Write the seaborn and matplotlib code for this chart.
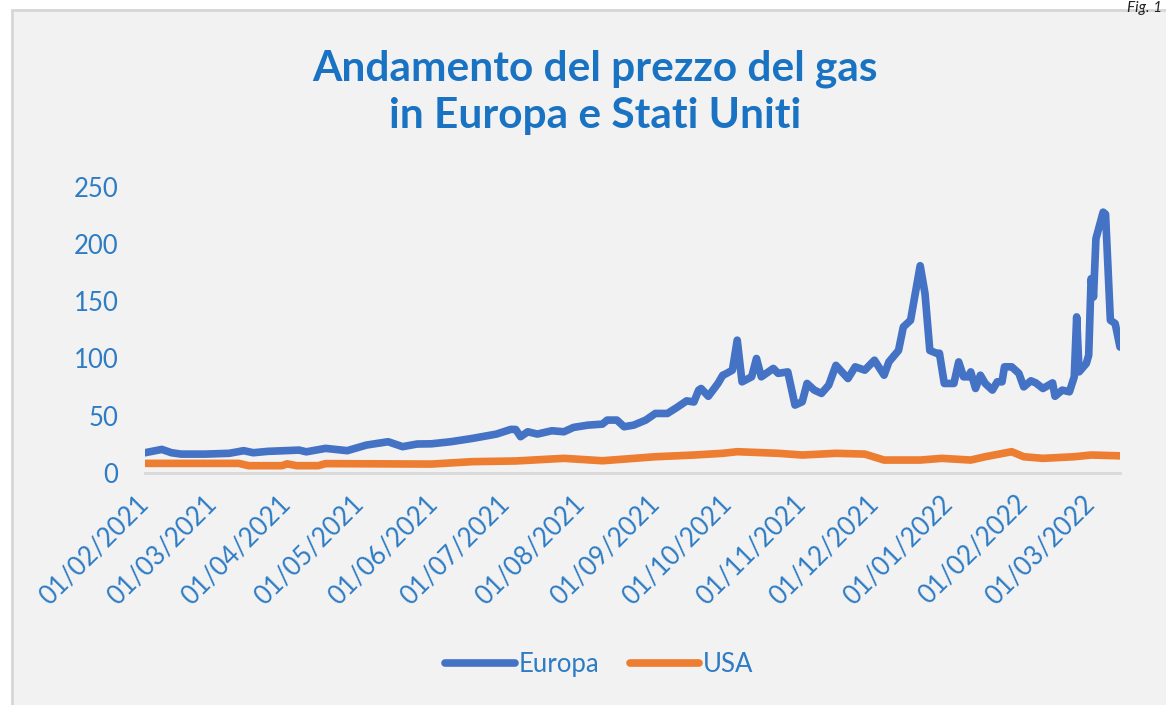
import matplotlib
matplotlib.use("Agg")
import matplotlib.pyplot as plt
import matplotlib.dates as mdates
from matplotlib.patches import Rectangle
import pandas as pd
import seaborn as sns

# ---- data ----
series_names = ["Europa", "USA"]

europe_dates = [
    "2021-02-01", "2021-02-08", "2021-02-12", "2021-02-16", "2021-02-26",
    "2021-03-08", "2021-03-14", "2021-03-18", "2021-03-24", "2021-04-06",
    "2021-04-09", "2021-04-17", "2021-04-26", "2021-05-04", "2021-05-13",
    "2021-05-19", "2021-05-25", "2021-05-31", "2021-06-08", "2021-06-17",
    "2021-06-27", "2021-07-03", "2021-07-05", "2021-07-07", "2021-07-10",
    "2021-07-14", "2021-07-20", "2021-07-25", "2021-07-29", "2021-08-04",
    "2021-08-10", "2021-08-12", "2021-08-16", "2021-08-19", "2021-08-23",
    "2021-08-28", "2021-09-01", "2021-09-06", "2021-09-10", "2021-09-14",
    "2021-09-17", "2021-09-19", "2021-09-20", "2021-09-23", "2021-09-27",
    "2021-09-29", "2021-09-30", "2021-10-03", "2021-10-05", "2021-10-07",
    "2021-10-11", "2021-10-13", "2021-10-15", "2021-10-20", "2021-10-22",
    "2021-10-26", "2021-10-29", "2021-11-01", "2021-11-03", "2021-11-06",
    "2021-11-09", "2021-11-12", "2021-11-15", "2021-11-20", "2021-11-23",
    "2021-11-27", "2021-12-01", "2021-12-05", "2021-12-07", "2021-12-11",
    "2021-12-13", "2021-12-16", "2021-12-20", "2021-12-22", "2021-12-24",
    "2021-12-27", "2021-12-28", "2021-12-30", "2022-01-03", "2022-01-05",
    "2022-01-07", "2022-01-09", "2022-01-10", "2022-01-12", "2022-01-14",
    "2022-01-16", "2022-01-19", "2022-01-21", "2022-01-23", "2022-01-24",
    "2022-01-27", "2022-01-30", "2022-02-01", "2022-02-04", "2022-02-06",
    "2022-02-09", "2022-02-13", "2022-02-14", "2022-02-17", "2022-02-20",
    "2022-02-22", "2022-02-23", "2022-02-24", "2022-02-27", "2022-02-28",
    "2022-03-01", "2022-03-02", "2022-03-03", "2022-03-06", "2022-03-07",
    "2022-03-09", "2022-03-11", "2022-03-13",
]
europe_values = [
    17.7, 20.6, 17.7, 16.5, 16.5,
    17.2, 19.5, 17.7, 18.9, 20.0,
    18.5, 21.5, 19.5, 24.4, 27.3,
    23.0, 25.3, 25.5, 27.3, 30.2,
    34.0, 38.1, 38.0, 31.7, 36.0,
    34.0, 36.9, 36.0, 39.8, 41.8,
    42.7, 46.2, 46.2, 40.4, 41.8,
    46.2, 52.0, 52.0, 57.3, 63.0,
    62.0, 72.4, 73.8, 67.0, 78.2,
    85.4, 86.3, 89.8, 116.0, 79.6,
    84.0, 100.0, 84.0, 91.3, 87.0,
    88.3, 59.3, 62.2, 78.2, 72.4,
    69.5, 76.7, 94.0, 82.5, 92.7,
    89.8, 98.5, 85.4, 97.0, 107.0,
    127.5, 133.4, 181.0, 156.7, 107.0,
    104.4, 104.6, 78.2, 78.2, 97.0,
    84.0, 84.0, 88.3, 73.8, 85.4,
    78.2, 72.4, 79.6, 79.6, 92.7,
    92.7, 87.0, 75.2, 80.5, 78.7,
    73.8, 78.7, 67.0, 72.4, 70.9,
    84.0, 136.3, 88.3, 95.6, 102.9,
    169.7, 153.7, 204.6, 227.8, 226.0,
    133.4, 130.5, 110.0,
]

usa_dates = [
    "2021-02-01", "2021-03-12", "2021-03-16", "2021-03-30", "2021-04-01",
    "2021-04-05", "2021-04-14", "2021-04-17", "2021-05-31", "2021-06-17",
    "2021-07-05", "2021-07-25", "2021-08-10", "2021-09-01", "2021-09-17",
    "2021-09-29", "2021-10-05", "2021-10-22", "2021-11-01", "2021-11-15",
    "2021-11-27", "2021-12-05", "2021-12-20", "2021-12-29", "2022-01-10",
    "2022-01-16", "2022-01-27", "2022-02-01", "2022-02-09", "2022-02-22",
    "2022-03-01", "2022-03-13",
]
usa_values = [
    8.4, 8.4, 6.4, 6.4, 8.0,
    6.4, 6.4, 8.2, 7.8, 9.9,
    10.5, 12.8, 10.7, 14.2, 15.7,
    17.2, 18.6, 17.2, 15.7, 17.2,
    16.5, 11.3, 11.3, 12.8, 11.3,
    14.2, 18.6, 14.2, 12.8, 14.2,
    15.7, 15.0,
]

tick_dates = [
    "2021-02-01", "2021-03-01", "2021-04-01", "2021-05-01", "2021-06-01",
    "2021-07-01", "2021-08-01", "2021-09-01", "2021-10-01", "2021-11-01",
    "2021-12-01", "2022-01-01", "2022-02-01", "2022-03-01",
]
y_ticks = [0, 50, 100, 150, 200, 250]

title_text = "Andamento del prezzo del gas\nin Europa e Stati Uniti"
fig_label = "Fig. 1"

# ---- frame ----
df = pd.concat([
    pd.DataFrame({"date": pd.to_datetime(europe_dates), "value": europe_values,
                  "series": series_names[0]}),
    pd.DataFrame({"date": pd.to_datetime(usa_dates), "value": usa_values,
                  "series": series_names[1]}),
], ignore_index=True)

sns.set_style("white")
plt.rcParams["font.family"] = ["Lato", "DejaVu Sans"]

TEXT_BLUE = "#2E7CC4"
TITLE_BLUE = "#1A73C2"
palette = {"Europa": "#4472C4", "USA": "#ED7D31"}

W, H = 1166, 705
fig = plt.figure(figsize=(W / 100, H / 100), dpi=100, facecolor="white")
fig.add_artist(Rectangle((12 / W, -0.02), 1.0, 1 - 10 / H + 0.02,
                         transform=fig.transFigure, facecolor="#f2f2f2",
                         edgecolor="#d6d6d6", lw=2.0, zorder=-10))

ax = fig.add_axes([145 / W, 1 - 473 / H, (1120 - 145) / W, (473 - 186.7) / H])
ax.set_facecolor("none")

sns.lineplot(data=df, x="date", y="value", hue="series", palette=palette,
             linewidth=5.5, ax=ax, solid_capstyle="round", solid_joinstyle="round")

ax.set_ylim(0, 250)
ax.set_yticks(y_ticks)
ax.set_xlim(pd.Timestamp(tick_dates[0]), pd.Timestamp(europe_dates[-1]))
ax.set_xticks(pd.to_datetime(tick_dates))
ax.xaxis.set_major_formatter(mdates.DateFormatter("%d/%m/%Y"))
ax.set_xlabel("")
ax.set_ylabel("")

for s in ["top", "right", "left"]:
    ax.spines[s].set_visible(False)
ax.spines["bottom"].set_color("#d9d9d9")
ax.spines["bottom"].set_linewidth(2)
ax.spines["bottom"].set_zorder(0)

ax.tick_params(axis="y", length=0, pad=19, labelsize=18.5, labelcolor=TEXT_BLUE)
ax.tick_params(axis="x", direction="out", length=7, width=2, color="#d9d9d9",
               pad=12, labelsize=18.5, labelcolor=TEXT_BLUE)
for lab in ax.get_xticklabels():
    lab.set_rotation(45)
    lab.set_ha("right")
    lab.set_va("center")
    lab.set_rotation_mode("anchor")

handles, labels = ax.get_legend_handles_labels()
ax.legend(handles, labels, loc="center", bbox_to_anchor=(0.514, 0.057),
          bbox_transform=fig.transFigure, ncol=2, frameon=False,
          fontsize=18.5, labelcolor=TEXT_BLUE, handlelength=2.7,
          handletextpad=0.15, columnspacing=1.2)

fig.text(0.51, 0.869, title_text, ha="center", va="center", fontsize=30.5,
         fontweight="bold", color=TITLE_BLUE, linespacing=1.3)
fig.text(0.997, 0.999, fig_label, ha="right", va="top", fontsize=11,
         style="italic", color="#222222")

fig.savefig("out.png", dpi=100, facecolor="white")
